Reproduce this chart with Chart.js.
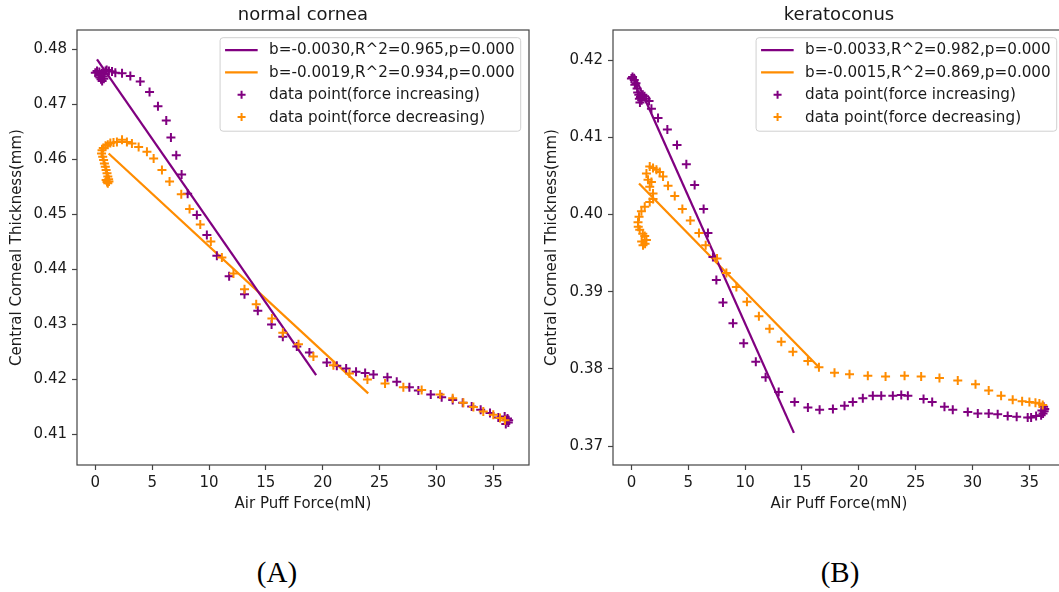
<!DOCTYPE html>
<html>
<head>
<meta charset="utf-8">
<script src="https://cdn.jsdelivr.net/npm/chart.js@4.4.0/dist/chart.umd.min.js"></script>
<style>
  html, body { margin: 0; padding: 0; background: #fff; }
  body { width: 1059px; height: 592px; position: relative; overflow: hidden; }
  canvas { position: absolute; top: 0; }
  #cA { left: 0; }
  #cB { left: 536px; }
  .cap { position: absolute; top: 556px; font-family: "Liberation Serif", "Times New Roman", serif; font-size: 29px; color: #000; transform: translateX(-50%); }
</style>
</head>
<body>
<canvas id="cA" width="536" height="530" style="width:536px;height:530px"></canvas>
<canvas id="cB" width="529" height="530" style="width:529px;height:530px"></canvas>
<div class="cap" style="left:277px">(A)</div>
<div class="cap" style="left:840px">(B)</div>
<script>
// ---------- DATA ----------
const titles = ["normal cornea", "keratoconus"];
const xTickValues = [0, 5, 10, 15, 20, 25, 30, 35];
const yTicksNormal = [0.41, 0.42, 0.43, 0.44, 0.45, 0.46, 0.47, 0.48];
const yTicksKerato = [0.37, 0.38, 0.39, 0.40, 0.41, 0.42];
const xLabel = "Air Puff Force(mN)";
const yLabel = "Central Corneal Thickness(mm)";
const legendNormal = ["b=-0.0030,R^2=0.965,p=0.000", "b=-0.0019,R^2=0.934,p=0.000", "data point(force increasing)", "data point(force decreasing)"];
const legendKerato = ["b=-0.0033,R^2=0.982,p=0.000", "b=-0.0015,R^2=0.869,p=0.000", "data point(force increasing)", "data point(force decreasing)"];

// fitted lines (end points)
const normalFitIncX = [0.15, 19.42];
const normalFitIncY = [0.4781, 0.4207];
const normalFitDecX = [1.17, 24.0];
const normalFitDecY = [0.4610, 0.4174];
const keratoFitIncX = [0.2, 14.29];
const keratoFitIncY = [0.4182, 0.3717];
const keratoFitDecX = [0.67, 16.49];
const keratoFitDecY = [0.4040, 0.3802];

// normal cornea, force increasing
const normalIncX = [0.0, 0.15, 0.3, 0.4, 0.5, 0.6, 0.7, 0.8, 0.9, 1.0, 0.55, 0.35, 0.75, 1.2,
  1.47, 1.76, 2.35, 3.08, 3.95, 4.77, 5.51, 6.24, 6.65, 7.12, 7.59, 8.12, 8.93, 9.81, 10.69, 11.77, 13.12, 14.29, 15.5, 16.49,
  17.72, 18.83, 20.36, 21.24, 22.06, 22.93, 23.73, 24.46, 25.69, 26.51, 27.62, 28.41, 29.5, 30.46, 31.43, 32.31, 33.1, 33.89,
  34.71, 35.44, 36.18, 36.32, 36.1, 36.25, 36.0, 36.35];
const normalIncY = [0.4757, 0.4760, 0.4752, 0.4748, 0.4745, 0.4742, 0.4750, 0.4755, 0.4760, 0.4762, 0.4756, 0.4758, 0.4746, 0.4760,
  0.4759, 0.4757, 0.4756, 0.4751, 0.4741, 0.4722, 0.4696, 0.4670, 0.4639, 0.4607, 0.4572, 0.4537, 0.4498, 0.4462, 0.4424, 0.4387, 0.4354, 0.4324, 0.4299, 0.4277,
  0.4259, 0.4248, 0.4230, 0.4224, 0.4219, 0.4213, 0.4211, 0.4208, 0.4203, 0.4195, 0.4185, 0.4179, 0.4172, 0.4167, 0.4162, 0.4157, 0.4150, 0.4144,
  0.4138, 0.4130, 0.4125, 0.4121, 0.4118, 0.4128, 0.4132, 0.4125];

// normal cornea, force decreasing
const normalDecX = [36.03, 35.59, 35.0, 34.12, 33.25, 32.37, 31.43, 30.32, 28.7, 27.09, 25.48, 23.93, 22.35, 20.94, 19.18,
  17.87, 16.49, 15.53, 14.15, 13.12, 12.15, 11.13, 10.16, 9.23, 8.29, 7.56, 6.53, 5.86, 5.13, 4.54, 3.81, 3.22, 2.78, 2.35,
  1.9, 1.6, 1.32, 1.1, 0.9, 0.7, 0.59, 0.55, 0.65, 0.73, 0.8, 0.88, 0.95, 1.03, 1.1, 1.17, 1.2, 1.1, 1.03, 0.95];
const normalDecY = [0.4125, 0.4129, 0.4135, 0.4141, 0.4149, 0.4157, 0.4165, 0.4172, 0.4180, 0.4185, 0.4192, 0.4199, 0.4210, 0.4225, 0.4241,
  0.4263, 0.4284, 0.4310, 0.4336, 0.4363, 0.4392, 0.4421, 0.4450, 0.4481, 0.4509, 0.4536, 0.4559, 0.4580, 0.4601, 0.4613, 0.4622, 0.4628, 0.4631, 0.4635,
  0.4631, 0.4630, 0.4629, 0.4626, 0.4624, 0.4620, 0.4616, 0.4610, 0.4604, 0.4598, 0.4592, 0.4586, 0.4580, 0.4574, 0.4568, 0.4563, 0.4559, 0.4556, 0.4558, 0.4562];

// keratoconus, force increasing
const keratoIncX = [0.0, 0.1, 0.25, 0.3, 0.4, 0.5, 0.55, 0.65, 0.7, 0.8, 0.9, 1.0, 1.15, 1.3, 0.75, 1.55,
  1.76, 2.34, 3.16, 4.01, 4.83, 5.56, 6.35, 6.73, 7.17, 7.47, 8.05, 8.93, 9.87, 10.94, 11.8, 12.95, 14.35, 15.52, 16.55,
  17.72, 18.74, 19.47, 20.35, 21.23, 21.97, 22.99, 23.73, 24.31, 25.69, 26.45, 27.53, 28.26, 29.58, 30.46, 31.42, 32.21,
  33.09, 33.88, 34.85, 35.15, 35.59, 36.03, 36.2, 36.3, 36.35, 36.25, 36.1];
const keratoIncY = [0.4176, 0.4178, 0.4174, 0.4168, 0.4170, 0.4163, 0.4158, 0.4155, 0.4150, 0.4152, 0.4148, 0.4155, 0.4153, 0.4150, 0.4145, 0.4147,
  0.4137, 0.4125, 0.4110, 0.4090, 0.4065, 0.4038, 0.4007, 0.3976, 0.3945, 0.3915, 0.3886, 0.3859, 0.3833, 0.3809, 0.3789, 0.3770, 0.3757, 0.3750, 0.3747,
  0.3748, 0.3752, 0.3757, 0.3762, 0.3765, 0.3765, 0.3765, 0.3766, 0.3765, 0.3761, 0.3757, 0.3751, 0.3747, 0.3744, 0.3742, 0.3742, 0.3741,
  0.3739, 0.3738, 0.3737, 0.3737, 0.3739, 0.3740, 0.3742, 0.3745, 0.3748, 0.3751, 0.3746];

// keratoconus, force decreasing
const keratoDecX = [36.17, 35.88, 35.53, 35.0, 34.36, 33.53, 32.51, 31.42, 30.26, 28.7, 27.09, 25.48, 24.02, 22.35, 20.79,
  19.18, 17.86, 16.49, 15.52, 14.2, 13.18, 12.15, 11.21, 10.16, 9.23, 8.35, 7.53, 6.53, 5.94, 5.18, 4.48, 3.81, 3.22,
  2.78, 2.49, 2.2, 1.9, 1.61, 1.32, 1.46, 1.61, 1.76, 1.9, 1.9, 1.61, 1.17, 0.88, 0.67, 0.58, 0.6, 0.73, 1.0, 1.17, 1.32, 1.2, 1.02, 0.9];
const keratoDecY = [0.3753, 0.3755, 0.3756, 0.3757, 0.3758, 0.3760, 0.3765, 0.3772, 0.3780, 0.3785, 0.3788, 0.3790, 0.3791, 0.3790, 0.3791,
  0.3793, 0.3795, 0.3802, 0.3810, 0.3822, 0.3835, 0.3852, 0.3868, 0.3887, 0.3906, 0.3924, 0.3943, 0.3960, 0.3976, 0.3992, 0.4007, 0.4024, 0.4037,
  0.4049, 0.4055, 0.4058, 0.4060, 0.4062, 0.4053, 0.4045, 0.4036, 0.4042, 0.4027, 0.4020, 0.4016, 0.4010, 0.4004, 0.3997, 0.3990, 0.3984, 0.3980, 0.3975, 0.3972, 0.3967, 0.3962, 0.3960, 0.3965];

// ---------- STYLE ----------
const PURPLE = '#800080';
const ORANGE = '#ff8c00';
const FONT = '"DejaVu Sans", Verdana, sans-serif';
const TEXT = '#1a1a1a';
const AXIS = '#444';

function pts(xs, ys) { return xs.map((x, i) => ({ x: x, y: ys[i] })); }

const framePlugin = {
  id: 'frame',
  afterDraw(chart, args, opts) {
    const { ctx, chartArea: a } = chart;
    ctx.save();
    ctx.strokeStyle = AXIS;
    ctx.lineWidth = 1.2;
    ctx.strokeRect(a.left, a.top, a.right - a.left, a.bottom - a.top);
    ctx.fillStyle = TEXT;
    ctx.font = '18px ' + FONT;
    ctx.textAlign = 'center';
    ctx.textBaseline = 'middle';
    ctx.fillText(opts.title, (a.left + a.right) / 2, 15);
    const labels = opts.labels;
    ctx.font = '15.2px ' + FONT;
    let tw = 0;
    labels.forEach(l => { tw = Math.max(tw, ctx.measureText(l).width); });
    const bw = 49 + tw + 6;
    const bx = a.right - 8.3 - bw;
    const by = a.top + 7.7;
    const bh = 93.5;
    ctx.beginPath();
    ctx.roundRect(bx, by, bw, bh, 3);
    ctx.fillStyle = 'rgba(255,255,255,0.8)';
    ctx.fill();
    ctx.strokeStyle = '#d0d0d0';
    ctx.lineWidth = 1;
    ctx.stroke();
    const rows = [12.3, 34.6, 57.0, 79.4];
    const cols = [PURPLE, ORANGE, PURPLE, ORANGE];
    labels.forEach((l, i) => {
      const y = by + rows[i];
      ctx.strokeStyle = cols[i];
      if (i < 2) {
        ctx.lineWidth = 2.25;
        ctx.beginPath();
        ctx.moveTo(bx + 5, y);
        ctx.lineTo(bx + 37.6, y);
        ctx.stroke();
      } else {
        const cx = bx + 21.5;
        ctx.lineWidth = 2;
        ctx.beginPath();
        ctx.moveTo(cx - 4, y); ctx.lineTo(cx + 4, y);
        ctx.moveTo(cx, y - 4); ctx.lineTo(cx, y + 4);
        ctx.stroke();
      }
      ctx.fillStyle = TEXT;
      ctx.textAlign = 'left';
      ctx.textBaseline = 'middle';
      ctx.fillText(l, bx + 49, y + 0.5);
    });
    ctx.restore();
  }
};

function makeChart(id, title, labels, fits, incX, incY, decX, decY, yMin, yMax, yTicks, xMin, xMax, yTitlePad, padRight) {
  return new Chart(document.getElementById(id), {
    type: 'scatter',
    data: {
      datasets: [
        { type: 'scatter', label: labels[3], data: pts(decX, decY), order: 0,
          pointStyle: 'cross', pointRadius: 4.5, pointHoverRadius: 4.5, pointBorderWidth: 2,
          borderColor: ORANGE, backgroundColor: ORANGE },
        { type: 'scatter', label: labels[2], data: pts(incX, incY), order: 1,
          pointStyle: 'cross', pointRadius: 4.5, pointHoverRadius: 4.5, pointBorderWidth: 2,
          borderColor: PURPLE, backgroundColor: PURPLE },
        { type: 'line', label: labels[0], data: pts(fits[0], fits[1]), order: 2,
          borderColor: PURPLE, borderWidth: 2.25, pointRadius: 0, fill: false, tension: 0 },
        { type: 'line', label: labels[1], data: pts(fits[2], fits[3]), order: 3,
          borderColor: ORANGE, borderWidth: 2.25, pointRadius: 0, fill: false, tension: 0 }
      ]
    },
    options: {
      responsive: false,
      maintainAspectRatio: false,
      animation: false,
      devicePixelRatio: 1,
      layout: { autoPadding: false, padding: { top: 30, left: 0, right: padRight, bottom: 0 } },
      plugins: {
        legend: { display: false },
        tooltip: { enabled: false },
        frame: { title: title, labels: labels }
      },
      scales: {
        x: {
          type: 'linear', min: xMin, max: xMax,
          afterBuildTicks: s => { s.ticks = xTickValues.map(v => ({ value: v })); },
          afterFit: s => { s.height = 65; s.paddingLeft = 0; s.paddingRight = 0; },
          grid: { display: true, drawOnChartArea: false, drawTicks: true, tickLength: 5, tickColor: AXIS, tickWidth: 1.2 },
          border: { display: false },
          ticks: { color: TEXT, font: { family: FONT, size: 15 }, padding: 4, maxRotation: 0, autoSkip: false,
                   callback: v => String(v) },
          title: { display: true, text: xLabel, color: TEXT, font: { family: FONT, size: 15 }, padding: { top: 0, bottom: 17 } }
        },
        y: {
          type: 'linear', min: yMin, max: yMax,
          afterBuildTicks: s => { s.ticks = yTicks.map(v => ({ value: v })); },
          afterFit: s => { s.width = 77; s.paddingTop = 0; s.paddingBottom = 0; },
          grid: { display: true, drawOnChartArea: false, drawTicks: true, tickLength: 5, tickColor: AXIS, tickWidth: 1.2 },
          border: { display: false },
          ticks: { color: TEXT, font: { family: FONT, size: 15 }, padding: 5, autoSkip: false,
                   callback: v => Number(v).toFixed(2) },
          title: { display: true, text: yLabel, color: TEXT, font: { family: FONT, size: 15 }, padding: { top: yTitlePad, bottom: 0 } }
        }
      }
    },
    plugins: [framePlugin]
  });
}

makeChart('cA', titles[0], legendNormal,
  [normalFitIncX, normalFitIncY, normalFitDecX, normalFitDecY],
  normalIncX, normalIncY, normalDecX, normalDecY,
  0.404364, 0.483455, yTicksNormal, -1.61, 38.14, 8.5, 7);

makeChart('cB', titles[1], legendKerato,
  [keratoFitIncX, keratoFitIncY, keratoFitDecX, keratoFitDecY],
  keratoIncX, keratoIncY, keratoDecX, keratoDecY,
  0.36754, 0.42389, yTicksKerato, -1.62, 38.13, 7.5, 0);
</script>
</body>
</html>
